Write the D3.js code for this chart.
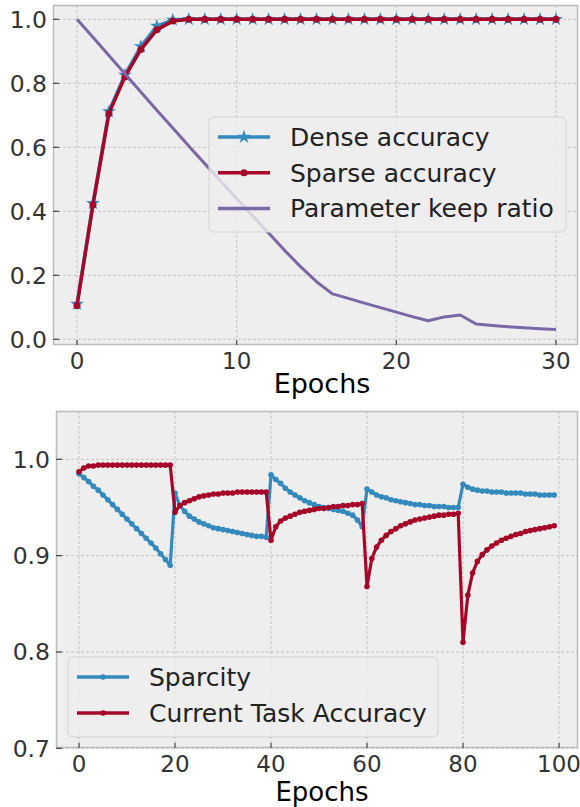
<!DOCTYPE html>
<html>
<head>
<meta charset="utf-8">
<script src="https://cdn.jsdelivr.net/npm/d3@7"></script>
<style>
  html, body { margin: 0; padding: 0; background: #fff; }
  svg { display: block; font-family: "DejaVu Sans", sans-serif; }
</style>
</head>
<body>
<svg id="chart" width="580" height="807"></svg>
<script>
// ---- data: top panel (31 epochs) ----
const topEpochs = d3.range(31);
const denseAcc = [0.110, 0.425, 0.712, 0.826, 0.915, 0.979, 0.998, 1.0, 1.0, 1.0, 1.0,
  1.0, 1.0, 1.0, 1.0, 1.0, 1.0, 1.0, 1.0, 1.0, 1.0,
  1.0, 1.0, 1.0, 1.0, 1.0, 1.0, 1.0, 1.0, 1.0, 1.0];
const sparseAcc = [0.105, 0.420, 0.706, 0.820, 0.906, 0.967, 0.995, 1.0, 1.0, 1.0, 1.0,
  1.0, 1.0, 1.0, 1.0, 1.0, 1.0, 1.0, 1.0, 1.0, 1.0,
  1.0, 1.0, 1.0, 1.0, 1.0, 1.0, 1.0, 1.0, 1.0, 1.0];
const keepRatio = [1.0, 0.944, 0.887, 0.830, 0.773, 0.716, 0.660, 0.604, 0.549, 0.494, 0.440,
  0.386, 0.332, 0.278, 0.227, 0.180, 0.142, 0.128, 0.113, 0.099, 0.085,
  0.071, 0.058, 0.070, 0.076, 0.048, 0.043, 0.039, 0.036, 0.033, 0.031];
const topXTicks = [0, 10, 20, 30];
const topYTicks = [0.0, 0.2, 0.4, 0.6, 0.8, 1.0];

// ---- data: bottom panel (100 epochs) ----
const bottomEpochs = d3.range(100);
const sparcity = [
  0.985, 0.981, 0.977, 0.972, 0.968, 0.963, 0.958, 0.953, 0.948, 0.943,
  0.938, 0.933, 0.928, 0.923, 0.918, 0.913, 0.908, 0.902, 0.896, 0.890,
  0.965, 0.952, 0.946, 0.941, 0.938, 0.935, 0.933, 0.931, 0.929, 0.928,
  0.927, 0.926, 0.925, 0.924, 0.923, 0.922, 0.921, 0.920, 0.920, 0.919,
  0.984, 0.979, 0.975, 0.970, 0.966, 0.963, 0.960, 0.957, 0.955, 0.953,
  0.951, 0.950, 0.949, 0.948, 0.947, 0.946, 0.944, 0.942, 0.937, 0.930,
  0.969, 0.966, 0.963, 0.961, 0.960, 0.958, 0.957, 0.956, 0.955, 0.954,
  0.953, 0.953, 0.952, 0.952, 0.951, 0.951, 0.951, 0.950, 0.950, 0.950,
  0.974, 0.971, 0.969, 0.968, 0.967, 0.967, 0.966, 0.966, 0.966, 0.965,
  0.965, 0.965, 0.965, 0.964, 0.964, 0.964, 0.963, 0.963, 0.963, 0.963];
const taskAcc = [
  0.987, 0.991, 0.993, 0.993, 0.994, 0.994, 0.994, 0.994, 0.994, 0.994,
  0.994, 0.994, 0.994, 0.994, 0.994, 0.994, 0.994, 0.994, 0.994, 0.994,
  0.945, 0.952, 0.955, 0.957, 0.959, 0.961, 0.962, 0.963, 0.964, 0.964,
  0.965, 0.965, 0.965, 0.966, 0.966, 0.966, 0.966, 0.966, 0.966, 0.966,
  0.916, 0.930, 0.936, 0.939, 0.941, 0.943, 0.945, 0.946, 0.947, 0.948,
  0.949, 0.949, 0.950, 0.951, 0.951, 0.952, 0.952, 0.953, 0.953, 0.954,
  0.868, 0.897, 0.909, 0.916, 0.921, 0.925, 0.928, 0.931, 0.933, 0.935,
  0.937, 0.938, 0.939, 0.940, 0.941, 0.942, 0.942, 0.943, 0.943, 0.944,
  0.810, 0.859, 0.882, 0.894, 0.901, 0.906, 0.910, 0.913, 0.916, 0.918,
  0.920, 0.922, 0.923, 0.925, 0.926, 0.927, 0.928, 0.929, 0.930, 0.931];
const bottomXTicks = [0, 20, 40, 60, 80, 100];
const bottomYTicks = [0.7, 0.8, 0.9, 1.0];

// bmh colours
const BLUE = "#348ABD", RED = "#A60628", PURPLE = "#7A68A6";

const svg = d3.select("#chart");

// draws the frame, grid, ticks and the x label of one panel
function drawPanel(id, box, x, y, xTicks, yTicks, yFmt, labelY, labelSize) {
  const g = svg.append("g");
  g.append("clipPath").attr("id", id)
    .append("rect").attr("x", box.left).attr("y", box.top)
    .attr("width", box.right - box.left).attr("height", box.bottom - box.top);

  g.append("rect")
    .attr("x", box.left).attr("y", box.top)
    .attr("width", box.right - box.left).attr("height", box.bottom - box.top)
    .attr("fill", "#eeeeee");

  // grid
  g.selectAll(".gx").data(xTicks).join("line")
    .attr("x1", d => x(d)).attr("x2", d => x(d))
    .attr("y1", box.top).attr("y2", box.bottom)
    .attr("stroke", "#c4c4c4").attr("stroke-width", 1).attr("stroke-dasharray", "3,2");
  g.selectAll(".gy").data(yTicks).join("line")
    .attr("x1", box.left).attr("x2", box.right)
    .attr("y1", d => y(d)).attr("y2", d => y(d))
    .attr("stroke", "#c4c4c4").attr("stroke-width", 1).attr("stroke-dasharray", "3,2");

  // frame
  g.append("rect")
    .attr("x", box.left + 0.5).attr("y", box.top + 0.5)
    .attr("width", box.right - box.left - 1).attr("height", box.bottom - box.top - 1)
    .attr("fill", "none").attr("stroke", "#bcbcbc").attr("stroke-width", 1.5);

  // ticks (inward) + labels
  g.selectAll(".tx").data(xTicks).join("line")
    .attr("x1", d => x(d)).attr("x2", d => x(d))
    .attr("y1", box.bottom).attr("y2", box.bottom - 5)
    .attr("stroke", "#444").attr("stroke-width", 1.2);
  g.selectAll(".ty").data(yTicks).join("line")
    .attr("x1", box.left).attr("x2", box.left + 6)
    .attr("y1", d => y(d)).attr("y2", d => y(d))
    .attr("stroke", "#444").attr("stroke-width", 1.2);

  g.selectAll(".lx").data(xTicks).join("text")
    .attr("x", d => x(d)).attr("y", box.bottom + 24)
    .attr("text-anchor", "middle").attr("font-size", 23).attr("fill", "#333")
    .text(d => d);
  g.selectAll(".ly").data(yTicks).join("text")
    .attr("x", box.left - 6).attr("y", d => y(d) + 8.5)
    .attr("text-anchor", "end").attr("font-size", 23.5).attr("fill", "#333")
    .text(yFmt);

  g.append("text")
    .attr("x", 322).attr("y", labelY)
    .attr("text-anchor", "middle").attr("font-size", labelSize).attr("fill", "#000")
    .text("Epochs");
}

function drawLine(clip, xs, ys, x, y, color, width, marker) {
  const g = svg.append("g").attr("clip-path", `url(#${clip})`);
  const pts = xs.map((d, i) => [x(d), y(ys[i])]);
  g.append("path")
    .attr("d", d3.line()(pts))
    .attr("fill", "none").attr("stroke", color)
    .attr("stroke-width", width).attr("stroke-linejoin", "round");
  if (marker === "star") {
    g.selectAll("path.m").data(pts).join("path")
      .attr("transform", d => `translate(${d[0]},${d[1]})`)
      .attr("d", d3.symbol(d3.symbolStar, 60)())
      .attr("fill", color);
  } else if (marker) {
    g.selectAll("circle").data(pts).join("circle")
      .attr("cx", d => d[0]).attr("cy", d => d[1]).attr("r", marker)
      .attr("fill", color);
  }
}

function drawLegend(box, items) {
  const g = svg.append("g");
  g.append("rect")
    .attr("x", box.x).attr("y", box.y).attr("width", box.w).attr("height", box.h)
    .attr("rx", 5)
    .attr("fill", "#eeeeee").attr("fill-opacity", 0.8)
    .attr("stroke", "#d4d4d4").attr("stroke-width", 1);
  items.forEach((it, i) => {
    const cy = box.y + box.first + i * box.step;
    const x0 = box.x + 9, x1 = x0 + 52;
    g.append("line").attr("x1", x0).attr("x2", x1).attr("y1", cy).attr("y2", cy)
      .attr("stroke", it.color).attr("stroke-width", 3.5);
    if (it.marker === "star") {
      g.append("path").attr("transform", `translate(${(x0 + x1) / 2},${cy})`)
        .attr("d", d3.symbol(d3.symbolStar, 60)()).attr("fill", it.color);
    } else if (it.marker) {
      g.append("circle").attr("cx", (x0 + x1) / 2).attr("cy", cy).attr("r", it.marker)
        .attr("fill", it.color);
    }
    g.append("text").attr("x", x1 + 20).attr("y", cy + 9)
      .attr("font-size", 25).attr("fill", "#222").text(it.label);
  });
}

// ---- top panel ----
const topBox = { left: 53, right: 578, top: 5, bottom: 345 };
const xTop = d3.scaleLinear().domain([0, 30]).range([77, 556]);
const yTop = d3.scaleLinear().domain([0, 1]).range([339.3, 19.3]);
drawPanel("clipTop", topBox, xTop, yTop, topXTicks, topYTicks, d => d3.format(".1f")(d), 393, 27);
drawLine("clipTop", topEpochs, denseAcc, xTop, yTop, BLUE, 3.5, "star");
drawLine("clipTop", topEpochs, sparseAcc, xTop, yTop, RED, 3.5, 3.5);
drawLine("clipTop", topEpochs, keepRatio, xTop, yTop, PURPLE, 3, null);
drawLegend({ x: 209, y: 117, w: 357, h: 115, first: 20, step: 35.7 }, [
  { label: "Dense accuracy", color: BLUE, marker: "star" },
  { label: "Sparse accuracy", color: RED, marker: 3.5 },
  { label: "Parameter keep ratio", color: PURPLE, marker: null }
]);

// ---- bottom panel ----
const bottomBox = { left: 56, right: 578, top: 411, bottom: 748 };
const xBottom = d3.scaleLinear().domain([0, 100]).range([79, 559]);
const yBottom = d3.scaleLinear().domain([0.7, 1.0]).range([748.3, 459.3]);
drawPanel("clipBottom", bottomBox, xBottom, yBottom, bottomXTicks, bottomYTicks, d => d3.format(".1f")(d), 801, 26);
drawLine("clipBottom", bottomEpochs, sparcity, xBottom, yBottom, BLUE, 3.2, 2.8);
drawLine("clipBottom", bottomEpochs, taskAcc, xBottom, yBottom, RED, 3.2, 2.8);
drawLegend({ x: 68, y: 657, w: 370, h: 80, first: 20, step: 36 }, [
  { label: "Sparcity", color: BLUE, marker: 2.8 },
  { label: "Current Task Accuracy", color: RED, marker: 2.8 }
]);
</script>
</body>
</html>
